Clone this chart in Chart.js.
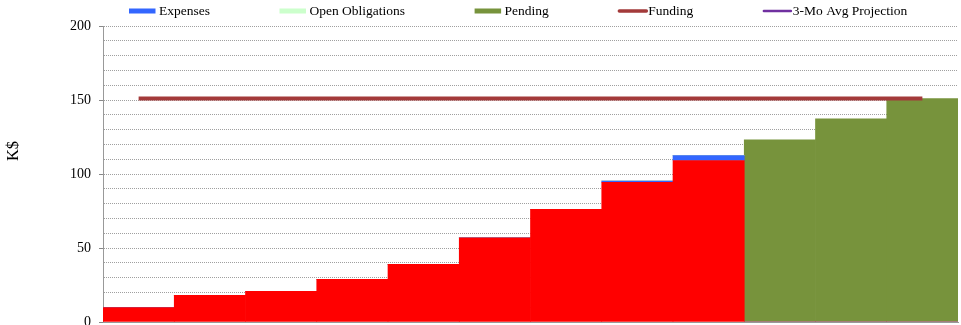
<!DOCTYPE html>
<html>
<head>
<meta charset="utf-8">
<script src="https://cdn.jsdelivr.net/npm/chart.js@4/dist/chart.umd.min.js"></script>
<style>
  html, body { margin: 0; padding: 0; background: #fff; }
  #wrap { width: 961px; height: 325px; position: relative; }
</style>
</head>
<body>
<div id="wrap"><canvas id="burnChart"></canvas></div>
<script>
// fiscal months, oldest first
const months = ["Oct", "Nov", "Dec", "Jan", "Feb", "Mar", "Apr", "May", "Jun", "Jul", "Aug", "Sep"];

// cumulative spend to date (K$)
const spentToDate = [9.7, 18.1, 20.8, 28.9, 38.9, 56.9, 76.2, 94.4, 109.1, 0, 0, 0];
const expenses = [0, 0, 0, 0, 0, 0, 0, 0.9, 3.4, 0, 0, 0];
const openObligations = [0, 0, 0, 0, 0, 0, 0, 0, 0, 0, 0, 0];
const pending = [0, 0, 0, 0, 0, 0, 0, 0, 0, 123.1, 137.3, 151];
const funding = [151, 151, 151, 151, 151, 151, 151, 151, 151, 151, 151, 151];
const avgProjection = [null, null, null, null, null, null, null, null, null, null, null, null];

const yTicks = [0, 50, 100, 150, 200];

const SERIF = "'Liberation Serif', 'Times New Roman', serif";

// legend row across the top, drawn by hand so spacing follows the layout
const topLegend = {
  id: "topLegend",
  afterDraw(chart) {
    const ctx = chart.ctx;
    ctx.save();
    ctx.font = "13.5px " + SERIF;
    ctx.textBaseline = "middle";
    ctx.fillStyle = "#000";
    let x = 129;
    const y = 11;
    chart.data.datasets.forEach((ds) => {
      if (ds.hideInLegend) return;
      if (ds.type === "line") {
        ctx.strokeStyle = ds.borderColor;
        ctx.lineWidth = ds.label === "Funding" ? 3.5 : 2.5;
        ctx.lineCap = "round";
        ctx.beginPath();
        ctx.moveTo(x + 1, y);
        ctx.lineTo(x + 28, y);
        ctx.stroke();
      } else {
        ctx.fillStyle = ds.backgroundColor;
        ctx.fillRect(x, y - 2.5, 26.5, 5);
      }
      ctx.fillStyle = "#000";
      const tx = x + 30;
      ctx.fillText(ds.label, tx, y);
      x = tx + ctx.measureText(ds.label).width + 69.5;
    });
    ctx.restore();
  },
};

// rotated y title sits a bit above the plot's middle
const yTitle = {
  id: "yTitle",
  afterDraw(chart) {
    const ctx = chart.ctx;
    ctx.save();
    ctx.translate(14, 151);
    ctx.rotate(-Math.PI / 2);
    ctx.font = "16.5px " + SERIF;
    ctx.fillStyle = "#000";
    ctx.textAlign = "center";
    ctx.textBaseline = "middle";
    ctx.fillText("K$", 0, 0);
    ctx.restore();
  },
};

new Chart(document.getElementById("burnChart"), {
  data: {
    labels: months,
    datasets: [
      { type: "bar", label: "Spent", data: spentToDate, backgroundColor: "#ff0000", hideInLegend: true, order: 2 },
      { type: "bar", label: "Expenses", data: expenses, backgroundColor: "#3366ff", order: 2 },
      { type: "bar", label: "Open Obligations", data: openObligations, backgroundColor: "#ccffcc", order: 2 },
      { type: "bar", label: "Pending", data: pending, backgroundColor: "#77933c", order: 2 },
      { type: "line", label: "Funding", data: funding, borderColor: "#a33a3a", borderWidth: 4, pointRadius: 0, stack: "lines", order: 0 },
      { type: "line", label: "3-Mo Avg Projection", data: avgProjection, borderColor: "#7030a0", borderWidth: 2.5, pointRadius: 0, stack: "lines2", order: 0 },
    ],
  },
  options: {
    responsive: true,
    maintainAspectRatio: false,
    animation: false,
    layout: { padding: { top: 26, right: 3, bottom: 3, left: 0 } },
    datasets: { bar: { categoryPercentage: 1, barPercentage: 1 } },
    plugins: { legend: { display: false }, tooltip: { enabled: false } },
    scales: {
      x: {
        stacked: true,
        offset: true,
        ticks: { display: false },
        grid: { display: false, drawTicks: false },
        border: { display: true, color: "#999", width: 1 },
        afterFit(scale) {
          scale.height = 0;
          scale.paddingLeft = 0;
          scale.paddingRight = 0;
        },
      },
      y: {
        stacked: true,
        min: 0,
        max: 200,
        ticks: {
          stepSize: 10,
          autoSkip: false,
          maxTicksLimit: 25,
          padding: 8,
          color: "#000",
          font: { family: SERIF, size: 14 },
          callback: (v) => (yTicks.includes(v) ? String(v) : ""),
        },
        grid: {
          color: "#a0a0a0",
          lineWidth: 1,
          tickLength: 4,
          tickColor: (c) => (c.tick && yTicks.includes(c.tick.value) ? "#888" : "rgba(0,0,0,0)"),
        },
        border: { display: true, color: "#999", width: 1, dash: [1, 1] },
        afterFit(scale) {
          scale.width = 103;
          scale.paddingTop = 0;
          scale.paddingBottom = 0;
        },
      },
    },
  },
  plugins: [topLegend, yTitle],
});
</script>
</body>
</html>
